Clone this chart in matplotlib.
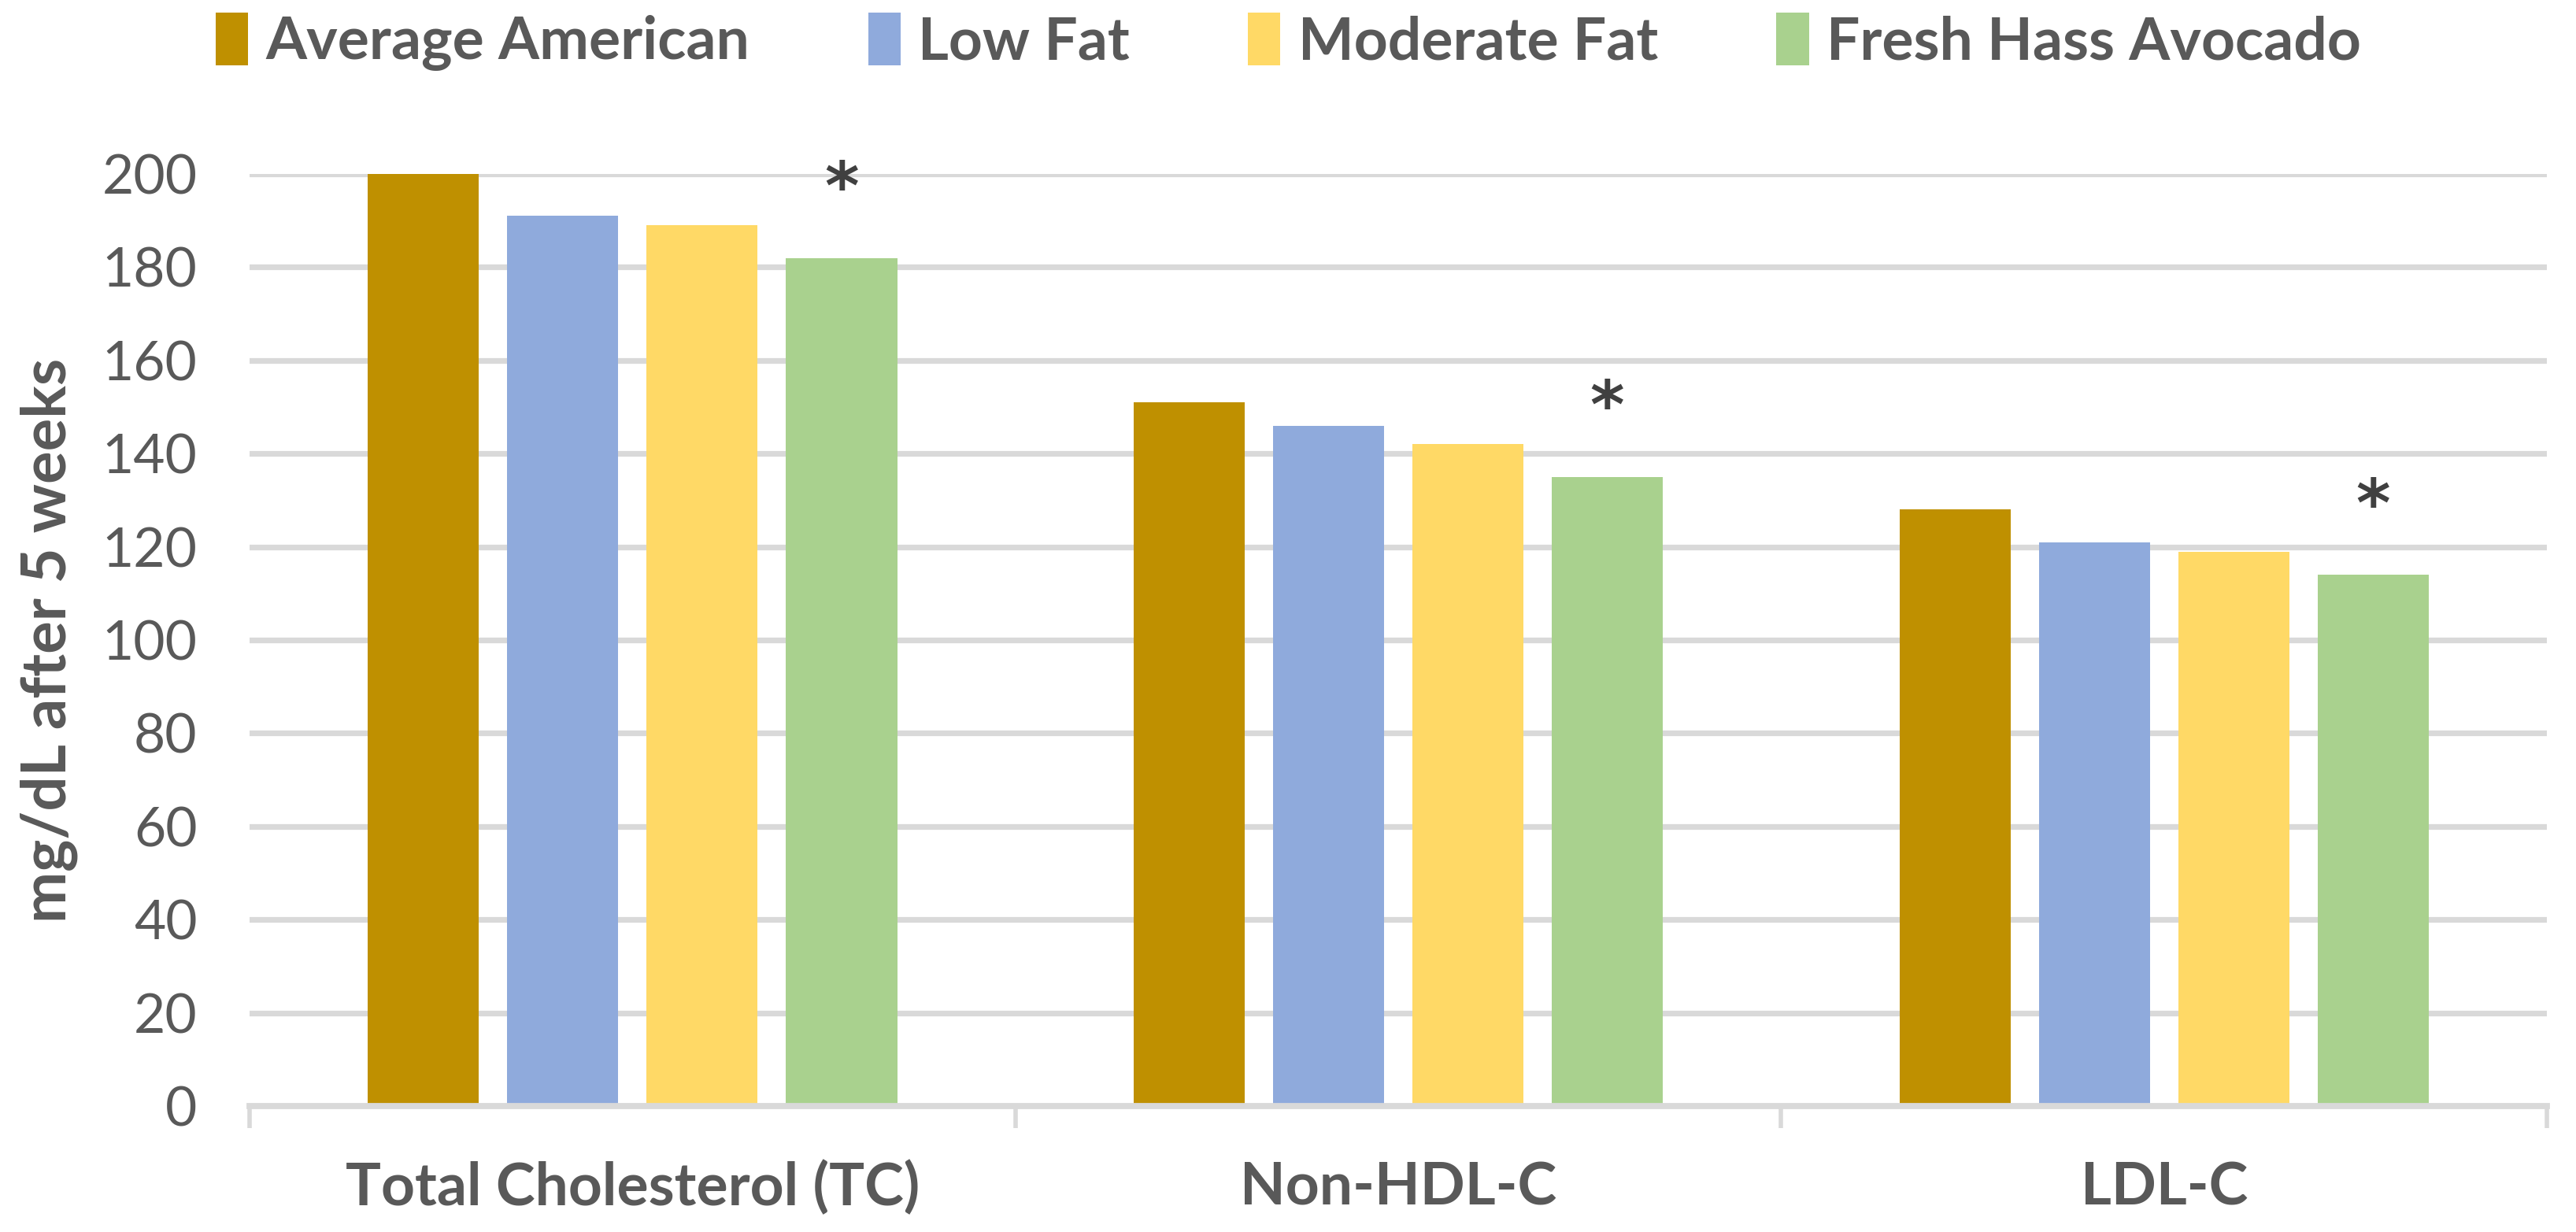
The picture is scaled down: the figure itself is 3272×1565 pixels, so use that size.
import matplotlib
matplotlib.use("Agg")
import matplotlib.pyplot as plt
from matplotlib.patches import Patch
import numpy as np

categories = ["Total Cholesterol (TC)", "Non-HDL-C", "LDL-C"]
series_names = ["Average American", "Low Fat", "Moderate Fat", "Fresh Hass Avocado"]
average_american = [200, 151, 128]
low_fat = [191, 146, 121]
moderate_fat = [189, 142, 119]
avocado = [182, 135, 114]
significant = ["*", "*", "*"]
yticks = [0, 20, 40, 60, 80, 100, 120, 140, 160, 180, 200]

colors = ["#BF9000", "#8FAADC", "#FFD966", "#A9D18E"]
text_col = "#595959"
font = "Lato"

fig = plt.figure(figsize=(3273 / 200, 1565 / 200), dpi=200)
ax = fig.add_axes([0.0969, 0.1022, 0.8915, 0.7566])

x = np.arange(len(categories))
width = 0.145
step = 0.182
all_series = [average_american, low_fat, moderate_fat, avocado]
for i, (vals, c) in enumerate(zip(all_series, colors)):
    ax.bar(x + (i - 1.5) * step, vals, width=width, color=c, zorder=3, clip_on=False)

for xi, v, s in zip(x, avocado, significant):
    ax.annotate(s, (xi + 1.5 * step, v), xytext=(0, 31), textcoords="offset points",
                ha="center", va="center", fontsize=30, fontweight="bold",
                color="#404040", family="DejaVu Sans")

ax.set_xlim(-0.5, len(categories) - 0.5)
ax.set_ylim(0, 200)
ax.set_yticks(yticks)
ax.set_yticklabels([str(t) for t in yticks], fontsize=25, color=text_col, family=font)
ax.yaxis.grid(True, color="#D9D9D9", linewidth=2.6, zorder=0)
ax.set_axisbelow(True)
ax.tick_params(axis="y", length=0, pad=24)

ax.set_xticks([-0.5, 0.5, 1.5, 2.5])
ax.set_xticklabels([])
ax.tick_params(axis="x", length=10, width=2.0, color="#D9D9D9", direction="out")
for xi, c in zip(x, categories):
    ax.text(xi, -0.088, c, transform=ax.get_xaxis_transform(), ha="center", va="center",
            fontsize=27, fontweight="bold", color=text_col, family=font)

for s in ["top", "right", "left"]:
    ax.spines[s].set_visible(False)
ax.spines["bottom"].set_color("#D9D9D9")
ax.spines["bottom"].set_linewidth(2.8)
ax.spines["bottom"].set_zorder(4)

fig.text(0.019, 0.48, "mg/dL after 5 weeks", rotation=90, ha="center", va="center",
         fontsize=28, fontweight="bold", color=text_col, family=font)

handles = [Patch(facecolor=c, edgecolor="none") for c in colors]
leg = fig.legend(handles, series_names, loc="center", bbox_to_anchor=(0.5, 0.966), ncol=4,
                 frameon=False, handlelength=0.55, handleheight=1.0, handletextpad=0.3,
                 columnspacing=2.0,
                 prop={"family": font, "weight": "bold", "size": 27})
for t in leg.get_texts():
    t.set_color(text_col)

fig.savefig("out.png", dpi=200, facecolor="white")
